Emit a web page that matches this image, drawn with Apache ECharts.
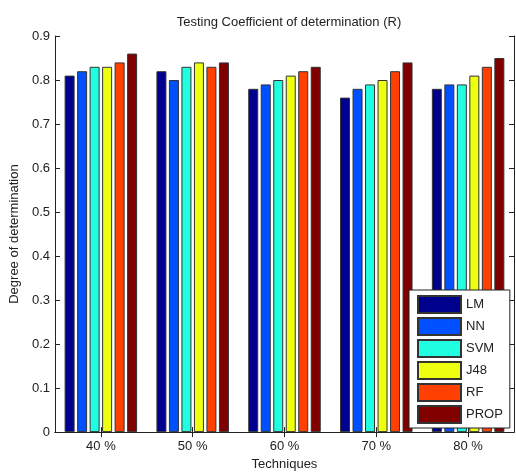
<!DOCTYPE html>
<html>
<head>
<meta charset="utf-8">
<script src="https://cdn.jsdelivr.net/npm/echarts@6/dist/echarts.min.js"></script>
<style>html,body{margin:0;padding:0;background:#fff;}#c{width:516px;height:476px;}</style>
</head>
<body>
<div id="c"></div>
<script>
const categories = ['40 %', '50 %', '60 %', '70 %', '80 %'];
const seriesNames = ['LM', 'NN', 'SVM', 'J48', 'RF', 'PROP'];
const LM   = [0.81, 0.82, 0.78, 0.76, 0.78];
const NN   = [0.82, 0.80, 0.79, 0.78, 0.79];
const SVM  = [0.83, 0.83, 0.80, 0.79, 0.79];
const J48  = [0.83, 0.84, 0.81, 0.80, 0.81];
const RF   = [0.84, 0.83, 0.82, 0.82, 0.83];
const PROP = [0.86, 0.84, 0.83, 0.84, 0.85];
const seriesValues = [LM, NN, SVM, J48, RF, PROP];
const colors = ['#00008f', '#0050ff', '#20ffdf', '#efff10', '#ff4000', '#800000'];

const font = 'Liberation Sans, Arial, sans-serif';
const chart = echarts.init(document.getElementById('c'), null, {renderer: 'canvas'});
chart.setOption({
  animation: false,
  backgroundColor: '#fff',
  title: {
    text: 'Testing Coefficient of determination (R)',
    left: 284, top: 11, textAlign: 'center',
    textStyle: {fontFamily: font, fontSize: 13, fontWeight: 'normal', color: '#222'}
  },
  grid: {left: 54, right: 2, top: 36, bottom: 39, containLabel: false, show: false},
  legend: {
    orient: 'vertical', left: 409, top: 290,
    itemWidth: 43, itemHeight: 17, itemGap: 3,
    padding: [5, 7, 4, 8],
    backgroundColor: '#fff', borderColor: '#222', borderWidth: 1,
    icon: 'rect',
    textStyle: {fontFamily: font, fontSize: 13, color: '#222', lineHeight: 17},
    data: seriesNames
  },
  xAxis: [{
    type: 'category', data: categories, position: 'bottom',
    name: 'Techniques', nameLocation: 'middle', nameGap: 25,
    nameTextStyle: {fontFamily: font, fontSize: 13, color: '#222'},
    axisLine: {show: true, lineStyle: {color: '#222', width: 1}},
    axisTick: {show: true, inside: true, length: 5, alignWithLabel: true, lineStyle: {color: '#222'}},
    axisLabel: {fontFamily: font, fontSize: 13, color: '#222', margin: 8},
    splitLine: {show: false}
  }, {
    type: 'category', data: categories, position: 'top',
    axisLine: {show: true, lineStyle: {color: '#222', width: 1}},
    axisTick: {show: true, inside: true, length: 5, alignWithLabel: true, lineStyle: {color: '#222'}},
    axisLabel: {show: false}
  }],
  yAxis: [{
    type: 'value', min: 0, max: 0.9, interval: 0.1, position: 'left',
    name: 'Degree of determination', nameLocation: 'middle', nameGap: 33,
    nameTextStyle: {fontFamily: font, fontSize: 13, color: '#222'},
    axisLine: {show: true, lineStyle: {color: '#222', width: 1}},
    axisTick: {show: true, inside: true, length: 5, lineStyle: {color: '#222'}},
    axisLabel: {fontFamily: font, fontSize: 13, color: '#222', margin: 5},
    splitLine: {show: false}
  }, {
    type: 'value', min: 0, max: 0.9, interval: 0.1, position: 'right',
    axisLine: {show: true, lineStyle: {color: '#222', width: 1}},
    axisTick: {show: true, inside: true, length: 5, lineStyle: {color: '#222'}},
    axisLabel: {show: false},
    splitLine: {show: false}
  }],
  series: seriesNames.map((n, i) => ({
    name: n, type: 'bar', data: seriesValues[i],
    xAxisIndex: 0, yAxisIndex: 0,
    barWidth: 10, barGap: '25%',
    itemStyle: {color: colors[i], borderColor: '#333', borderWidth: 1}
  }))
});
</script>
</body>
</html>
